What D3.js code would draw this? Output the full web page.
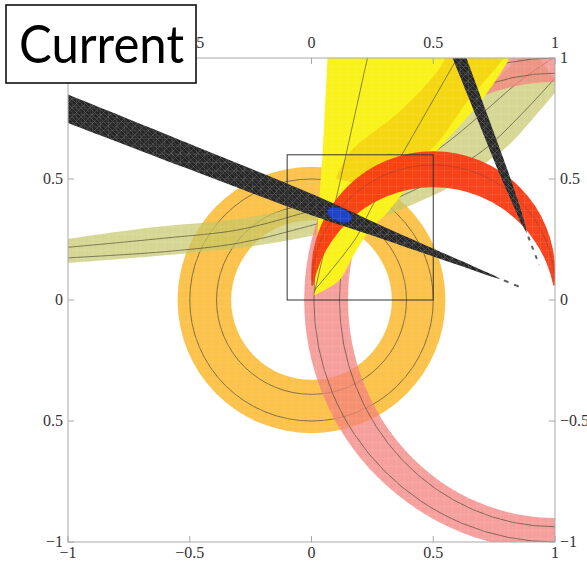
<!DOCTYPE html>
<html>
<head>
<meta charset="utf-8">
<script src="https://cdn.jsdelivr.net/npm/d3@7"></script>
<style>
  html, body { margin: 0; padding: 0; background: #fff; }
  svg { display: block; }
</style>
</head>
<body>
<svg id="chart" width="587" height="564"></svg>
<script>
// ---- tick values and labels ----
const tickValues   = [-1, -0.5, 0, 0.5, 1];
const bottomLabels = ["\u22121", "\u22120.5", "0", "0.5", "1"];
const topLabels    = ["\u22121", "\u22120.5", "0", "0.5", "1"];
const leftLabels   = ["\u22121", "0.5", "0", "0.5", "1"];
const rightLabels  = ["\u22121", "\u22120.5", "0", "0.5", "1"];

// ---- |Vub/Vcb| ring (centre, inner/outer radius, contour radii) ----
const vubCenter = [0, 0];
const vubRadii  = [0.33, 0.55];
const vubLines  = [0.39, 0.50];

// ---- Δm_d ring (centre, [rx, ry] of inner/outer edge and contours) ----
const dmdCenter = [1, 0];
const dmdInner  = [0.85, 0.90];
const dmdOuter  = [1.03, 1.035];
const dmdLines  = [[0.885, 0.937], [0.99, 1.0]];

// ---- Δm_s/Δm_d crescent (outer circle, inner circle, contour, lower cut) ----
const dmsOuter = [0.5, 0.111, 0.501];
const dmsInner = [0.5, -0.04, 0.503];
const dmsLine  = [0.5, 0.055, 0.5];
const dmsCut   = 0.06;

// ---- ε_K band edges and contours ----
const epsLower = [[-1.02, 0.152], [-0.66, 0.18], [-0.3, 0.215], [-0.05, 0.255], [0.25, 0.33],
                  [0.45, 0.41], [0.6, 0.485], [0.72, 0.57], [0.81, 0.64], [0.91, 0.75], [1.02, 0.88]];
const epsUpper = [[-1.02, 0.25], [-0.66, 0.30], [-0.3, 0.335], [-0.05, 0.385], [0.2, 0.46],
                  [0.4, 0.56], [0.55, 0.69], [0.68, 0.83], [0.8, 0.95], [0.9, 1.05]];
const epsLine1 = [[-1.02, 0.216], [-0.6, 0.256], [-0.3, 0.29], [-0.05, 0.355], [0.25, 0.45],
                  [0.53, 0.63], [0.70, 0.77], [0.85, 0.90], [1.02, 1.02]];
const epsLine2 = [[-1.02, 0.173], [-0.6, 0.2], [-0.3, 0.235], [-0.05, 0.295], [0.3, 0.40],
                  [0.68, 0.60], [0.855, 0.76], [1.02, 0.94]];

// ---- α wedge (bright) and inner band (gold) ----
const alphaLeft  = [[0.012, 0.02], [0.02, 0.2], [0.033, 0.43], [0.045, 0.6], [0.066, 1.0], [0.069, 1.05]];
const alphaRight = [[0.012, 0.02], [0.115, 0.083], [0.17, 0.18], [0.24, 0.29], [0.31, 0.36],
                    [0.42, 0.50], [0.526, 0.628], [0.637, 0.752], [0.70, 0.826], [0.813, 1.0], [0.83, 1.05]];
const goldUpper  = [[0.10, 0.50], [0.155, 0.607], [0.375, 0.79], [0.534, 0.97], [0.565, 1.05]];
const goldLower  = [[0.25, 0.47], [0.38, 0.55], [0.5, 0.63], [0.64, 0.82], [0.79, 1.0], [0.82, 1.05]];
const alphaLineA = [[0.012, 0.03], [0.115, 0.48], [0.23, 1.0], [0.242, 1.05]];
const alphaLineB = [[0.012, 0.04], [0.185, 0.26], [0.24, 0.37], [0.375, 0.607], [0.58, 0.967], [0.605, 1.01]];

// ---- dark bands: spine points [rho, eta, thickness] and dashed tails ----
const bandShallow = [[-1.05, 0.81, 0.11], [-0.5, 0.592, 0.098], [0, 0.394, 0.082], [0.3, 0.275, 0.048],
                     [0.5, 0.196, 0.03], [0.65, 0.137, 0.017], [0.74, 0.101, 0.009], [0.78, 0.085, 0]];
const tailShallow = [[0.79, 0.081], [0.87, 0.048]];
const bandSteep   = [[0.589, 1.05, 0.053], [0.608, 1.0, 0.053], [0.70, 0.76, 0.045], [0.79, 0.525, 0.036],
                     [0.84, 0.395, 0.024], [0.87, 0.315, 0.013], [0.885, 0.275, 0]];
const tailSteep   = [[0.89, 0.262], [0.935, 0.145]];

// ---- best fit region ----
const fitCenter = [0.115, 0.352];
const fitRadii  = [0.053, 0.028];

// ---- zoom frame ----
const zoomBox = [[-0.1, 0], [0.5, 0.6]];

// ====================================================================
const svg = d3.select("#chart");
const x = d3.scaleLinear().domain([-1, 1]).range([68, 555]);
const y = d3.scaleLinear().domain([-1, 1]).range([542, 58]);
const kx = (x(1) - x(0)), ky = (y(0) - y(1));

const defs = svg.append("defs");
defs.append("clipPath").attr("id", "plotClip")
  .append("rect").attr("x", x(-1)).attr("y", y(1))
  .attr("width", x(1) - x(-1)).attr("height", y(-1) - y(1));
defs.append("clipPath").attr("id", "dmsClip")
  .append("rect").attr("x", x(-1)).attr("y", y(1))
  .attr("width", x(1) - x(-1)).attr("height", y(dmsCut) - y(1));

// mesh texture of the dark bands
const mesh = defs.append("pattern").attr("id", "mesh").attr("patternUnits", "userSpaceOnUse")
  .attr("width", 9).attr("height", 9);
mesh.append("rect").attr("width", 9).attr("height", 9).attr("fill", "#252525");
mesh.append("path").attr("d", "M0,0L9,9M0,4.5L4.5,9M4.5,0L9,4.5M0,9L9,0")
  .attr("stroke", "#6a6a6a").attr("stroke-width", 0.5).attr("fill", "none");
mesh.append("path").attr("d", "M0,0H9M0,0V9")
  .attr("stroke", "#555").attr("stroke-width", 0.5).attr("fill", "none");

// faint rendering grid over the filled areas
const grid = defs.append("pattern").attr("id", "grid").attr("patternUnits", "userSpaceOnUse")
  .attr("width", 8).attr("height", 8).attr("x", x(-1)).attr("y", y(1));
grid.append("path").attr("d", "M0,0H8M0,0V8").attr("stroke", "#fff")
  .attr("stroke-width", 0.7).attr("fill", "none");

const plot = svg.append("g").attr("clip-path", "url(#plotClip)");

function ellipsePath(cx, cy, rx, ry) {
  const X = x(cx), Y = y(cy), RX = rx * kx, RY = ry * ky;
  return `M${X + RX},${Y}A${RX},${RY} 0 1 0 ${X - RX},${Y}A${RX},${RY} 0 1 0 ${X + RX},${Y}Z`;
}
const smooth = d3.line().x(d => x(d[0])).y(d => y(d[1])).curve(d3.curveCatmullRom);
function bandPath(a, b) {
  return smooth(a) + "L" + smooth(b.slice().reverse()).slice(1) + "Z";
}
function ribbonPath(spine) {
  const pts = spine.map(d => [x(d[0]), y(d[1])]);
  const L = [], R = [];
  pts.forEach((p, i) => {
    const a = pts[Math.max(i - 1, 0)], b = pts[Math.min(i + 1, pts.length - 1)];
    const dx = b[0] - a[0], dy = b[1] - a[1], len = Math.hypot(dx, dy);
    const nx = -dy / len, ny = dx / len, h = spine[i][2] * kx / 2;
    L.push([p[0] + nx * h, p[1] + ny * h]);
    R.push([p[0] - nx * h, p[1] - ny * h]);
  });
  const l = d3.line().curve(d3.curveCatmullRom);
  return l(L) + "L" + l(R.reverse()).slice(1) + "Z";
}
const contour = (g, d) => g.append("path").attr("d", d).attr("fill", "none")
  .attr("stroke", "#4d4a38").attr("stroke-width", 0.8).attr("stroke-opacity", 0.85);

// |Vub/Vcb| ring
plot.append("path")
  .attr("d", ellipsePath(vubCenter[0], vubCenter[1], vubRadii[1], vubRadii[1]) +
             ellipsePath(vubCenter[0], vubCenter[1], vubRadii[0], vubRadii[0]))
  .attr("fill", "#fbc24c").attr("fill-rule", "evenodd");
vubLines.forEach(r => contour(plot, ellipsePath(vubCenter[0], vubCenter[1], r, r)));

// ε_K band
plot.append("path").attr("d", bandPath(epsLower, epsUpper))
  .attr("fill", "rgb(196,198,104)").attr("fill-opacity", 0.7);
[epsLine1, epsLine2].forEach(l => contour(plot, smooth(l)));

// Δm_d ring
plot.append("path")
  .attr("d", ellipsePath(dmdCenter[0], dmdCenter[1], dmdOuter[0], dmdOuter[1]) +
             ellipsePath(dmdCenter[0], dmdCenter[1], dmdInner[0], dmdInner[1]))
  .attr("fill", "rgb(243,128,126)").attr("fill-opacity", 0.75).attr("fill-rule", "evenodd");
dmdLines.forEach(r => contour(plot, ellipsePath(dmdCenter[0], dmdCenter[1], r[0], r[1])));

// α wedge
plot.append("path").attr("d", bandPath(alphaLeft, alphaRight)).attr("fill", "#faf21c");
plot.append("path").attr("d", bandPath(goldUpper, goldLower)).attr("fill", "#f4d612");
[alphaLineA, alphaLineB].forEach(l => contour(plot, smooth(l)));

// Δm_s/Δm_d crescent
const dms = plot.append("g").attr("clip-path", "url(#dmsClip)");
dms.append("path")
  .attr("d", ellipsePath(dmsOuter[0], dmsOuter[1], dmsOuter[2], dmsOuter[2] * kx / ky) +
             ellipsePath(dmsInner[0], dmsInner[1], dmsInner[2], dmsInner[2] * kx / ky))
  .attr("fill", "#f83a12").attr("fill-rule", "evenodd").attr("fill-opacity", 0.95);
contour(dms, ellipsePath(dmsLine[0], dmsLine[1], dmsLine[2], dmsLine[2] * kx / ky))
  .attr("stroke-opacity", 0.45);

// dark bands
[bandShallow, bandSteep].forEach(s =>
  plot.append("path").attr("d", ribbonPath(s)).attr("fill", "url(#mesh)"));
[[tailShallow, "5 6"], [tailSteep, "4 6"]].forEach(([t, dash]) =>
  plot.append("path").attr("d", d3.line().x(d => x(d[0])).y(d => y(d[1]))(t))
    .attr("stroke", "#333").attr("stroke-width", 2).attr("stroke-dasharray", dash)
    .attr("fill", "none").attr("stroke-opacity", 0.8));

// best fit region
plot.append("ellipse")
  .attr("cx", x(fitCenter[0])).attr("cy", y(fitCenter[1]))
  .attr("rx", fitRadii[0] * kx).attr("ry", fitRadii[1] * ky)
  .attr("transform", `rotate(21 ${x(fitCenter[0])} ${y(fitCenter[1])})`)
  .attr("fill", "#1f44c8").attr("stroke", "#1a2f8f").attr("stroke-width", 0.8);

// rendering grid
plot.append("rect").attr("x", x(-1)).attr("y", y(1))
  .attr("width", x(1) - x(-1)).attr("height", y(-1) - y(1))
  .attr("fill", "url(#grid)").attr("opacity", 0.2);

// zoom frame
svg.append("rect")
  .attr("x", x(zoomBox[0][0])).attr("y", y(zoomBox[1][1]))
  .attr("width", x(zoomBox[1][0]) - x(zoomBox[0][0]))
  .attr("height", y(zoomBox[0][1]) - y(zoomBox[1][1]))
  .attr("fill", "none").attr("stroke", "#333").attr("stroke-width", 1);

// ---- frame, ticks, labels ----
const axisCol = "#a8a8a8", tl = 6;
svg.append("rect").attr("x", x(-1)).attr("y", y(1))
  .attr("width", x(1) - x(-1)).attr("height", y(-1) - y(1))
  .attr("fill", "none").attr("stroke", axisCol).attr("stroke-width", 1);
const ticks = svg.append("g").attr("stroke", axisCol).attr("stroke-width", 1);
tickValues.forEach(v => {
  ticks.append("line").attr("x1", x(v)).attr("x2", x(v)).attr("y1", y(-1)).attr("y2", y(-1) - tl);
  ticks.append("line").attr("x1", x(v)).attr("x2", x(v)).attr("y1", y(1)).attr("y2", y(1) + tl);
  ticks.append("line").attr("y1", y(v)).attr("y2", y(v)).attr("x1", x(-1)).attr("x2", x(-1) + tl);
  ticks.append("line").attr("y1", y(v)).attr("y2", y(v)).attr("x1", x(1)).attr("x2", x(1) - tl);
});
const lab = svg.append("g").attr("font-family", "'Liberation Serif', 'DejaVu Serif', serif")
  .attr("font-size", 16).attr("fill", "#333");
tickValues.forEach((v, i) => {
  lab.append("text").attr("x", x(v)).attr("y", 558).attr("text-anchor", "middle").text(bottomLabels[i]);
  lab.append("text").attr("x", x(v)).attr("y", 48).attr("text-anchor", "middle").text(topLabels[i]);
  lab.append("text").attr("x", 63).attr("y", y(v)).attr("dy", "0.33em").attr("text-anchor", "end").text(leftLabels[i]);
  lab.append("text").attr("x", 560).attr("y", y(v)).attr("dy", "0.33em").attr("text-anchor", "start").text(rightLabels[i]);
});

// ---- title box ----
svg.append("rect").attr("x", 6).attr("y", 5).attr("width", 190).attr("height", 78)
  .attr("fill", "#fff").attr("stroke", "#000").attr("stroke-width", 1.5);
svg.append("text").attr("x", 19).attr("y", 63)
  .attr("font-family", "Lato, 'Open Sans', sans-serif").attr("font-size", 53)
  .attr("textLength", 165).attr("lengthAdjust", "spacingAndGlyphs")
  .attr("fill", "#000").text("Current");
</script>
</body>
</html>
